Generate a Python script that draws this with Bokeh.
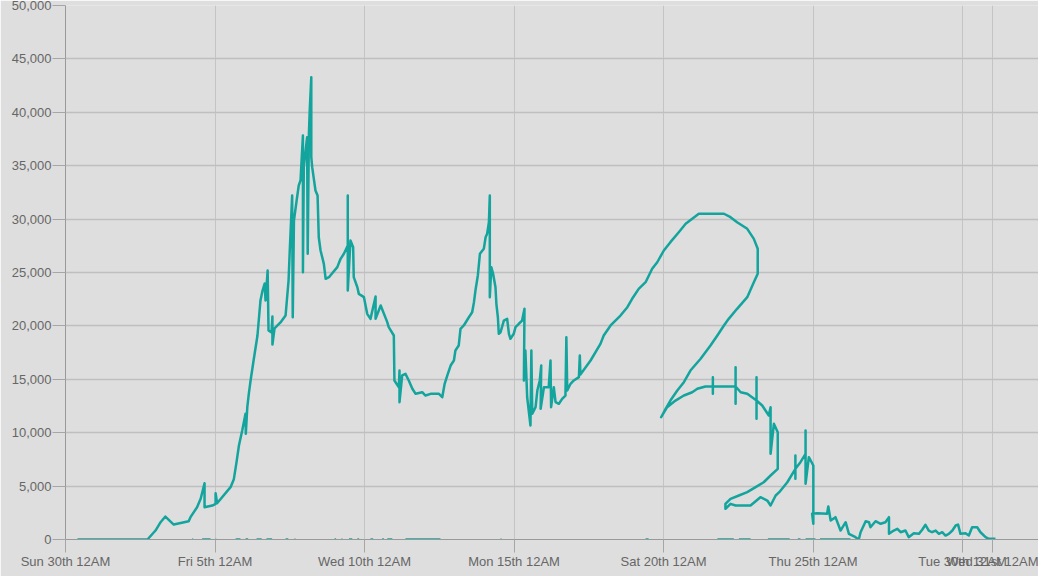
from bokeh.plotting import figure
from bokeh.models import Range1d, FixedTicker, NumeralTickFormatter
from bokeh.embed import file_html
from bokeh.resources import INLINE

# ---- data: days since Sun 30th 12AM, and values (points in recorded order) ----
day_offset = [
    0.40, 2.74, 3.01, 3.18, 3.34, 3.62, 4.12, 4.18, 4.40, 4.52, 4.65, 4.65, 4.91, 5.02, 5.02, 5.07,
    5.52, 5.63, 5.72, 5.80, 5.91, 6.02, 6.03, 6.08, 6.13, 6.19, 6.29, 6.42, 6.52, 6.59, 6.66, 6.69,
    6.76, 6.79, 6.89, 6.92, 6.92, 6.99, 7.19, 7.36, 7.46, 7.50, 7.58, 7.60, 7.64, 7.73, 7.80, 7.86,
    7.94, 7.94, 7.97, 8.08, 8.10, 8.14, 8.17, 8.22, 8.22, 8.25, 8.36, 8.43, 8.47, 8.53, 8.64, 8.70,
    8.81, 9.09, 9.20, 9.31, 9.44, 9.44, 9.44, 9.53, 9.62, 9.64, 9.76, 9.81, 9.98, 10.09, 10.20, 10.37,
    10.37, 10.54, 10.76, 10.81, 10.98, 11.00, 11.15, 11.17, 11.17, 11.26, 11.37, 11.48, 11.60, 11.71,
    11.93, 12.04, 12.21, 12.49, 12.60, 12.68, 12.77, 12.88, 12.99, 13.04, 13.15, 13.21, 13.32, 13.49,
    13.60, 13.66, 13.71, 13.79, 13.86, 13.99, 14.05, 14.10, 14.16, 14.19, 14.19, 14.24, 14.30, 14.38,
    14.41, 14.46, 14.49, 14.55, 14.66, 14.77, 14.83, 14.88, 14.99, 15.05, 15.16, 15.27, 15.35, 15.33,
    15.38, 15.44, 15.55, 15.58, 15.61, 15.72, 15.78, 15.86, 15.91, 15.89, 16.00, 16.16, 16.22, 16.24,
    16.33, 16.39, 16.50, 16.61, 16.72, 16.75, 16.78, 16.89, 17.00, 17.17, 17.20, 17.22, 17.56, 17.89,
    18.00, 18.23, 18.56, 18.79, 18.95, 19.17, 19.40, 19.62, 19.79, 20.01, 20.23, 20.51, 20.74, 20.96,
    21.18, 22.02, 22.24, 22.46, 22.80, 23.02, 23.15, 23.15, 23.02, 22.80, 22.46, 22.18, 22.02, 21.80,
    21.57, 21.24, 20.90, 20.68, 20.46, 20.23, 20.07, 19.92, 20.12, 20.40, 20.68, 20.96, 21.13, 21.40,
    21.65, 21.65, 21.65, 21.65, 22.41, 22.41, 22.41, 22.41, 22.58, 22.80, 23.11, 23.11, 23.11, 23.11,
    23.30, 23.52, 23.58, 23.58, 23.69, 23.82, 23.82, 23.58, 23.35, 23.08, 22.80, 22.52, 22.24, 22.07,
    22.07, 22.24, 22.41, 22.91, 23.24, 23.47, 23.58, 23.75, 23.87, 24.14, 24.41, 24.41, 24.41, 24.41,
    24.58, 24.75, 24.75, 24.75, 24.86, 25.01, 25.01, 24.97, 25.14, 25.47, 25.51, 25.59, 25.75, 25.92,
    26.09, 26.20, 26.42, 26.53, 26.59, 26.76, 26.87, 26.92, 27.09, 27.26, 27.42, 27.54, 27.54, 27.70,
    27.82, 27.93, 28.09, 28.20, 28.37, 28.54, 28.65, 28.76, 28.87, 28.98, 29.10, 29.21, 29.32, 29.43,
    29.54, 29.66, 29.77, 29.85, 29.93, 30.10, 30.21, 30.32, 30.49, 30.60, 30.77, 30.88, 31.10,
]
value = [
    0, 0, 840, 1620, 2150, 1400, 1710, 2090, 3020, 3810, 5270, 3020, 3180, 3340, 4330, 3400,
    4900, 5650, 7240, 8800, 10200, 11770, 9900, 12390, 13640, 14890, 16760, 19100, 22380, 23310, 23970, 22380,
    25190, 19570, 19380, 20880, 18260, 19760, 20320, 20970, 24250, 27060, 32210, 20810, 29870, 31740, 33150, 33620,
    37830, 25030, 34860, 37670, 26750, 37990, 40330, 43290, 35800, 34860, 32680, 32210, 28300, 27060, 25810, 24410,
    24560, 25500, 26280, 26750, 27530, 32210, 23310, 28000, 27370, 24560, 23620, 23000, 22690, 21130, 20660, 22750,
    20660, 21910, 20350, 19880, 19100, 14890, 14260, 15820, 12860, 15360, 15510, 14890, 14110, 13640,
    13790, 13480, 13640, 13640, 13320, 14580, 15360, 16290, 16760, 17700, 18160, 19730, 20040, 20810,
    21280, 22220, 23310, 24720, 26750, 27220, 28300, 28620, 29710, 32210, 22690, 25500, 24880, 23620,
    22070, 20810, 19260, 19410, 20500, 20660, 19260, 18790, 19260, 19880, 20200, 20500, 21600, 14890,
    17700, 13320, 10670, 17700, 11770, 12390, 13950, 14890, 16290, 12240, 14260, 14260, 16760, 12390,
    14260, 12860, 12710, 13170, 13480, 18940, 13950, 14580, 14890, 15200, 17230, 15450, 16760, 18320,
    19100, 20040, 20970, 21750, 22540, 23470, 24090, 25350, 25960, 27060, 27840, 28770, 29560, 30030,
    30500, 30500, 30180, 29710, 29090, 28150, 27220, 24880, 24090, 22690, 21600, 20660, 20040, 19100,
    18160, 16920, 15820, 14730, 13950, 13010, 12240, 11450, 12390, 13010, 13480, 13790, 14110, 14330,
    14330, 15200, 13640, 14330, 14330, 16130, 12710, 14330, 13790, 13640, 13010, 15200, 11300, 13010,
    12550, 11610, 12390, 8020, 10830, 10050, 6620, 5990, 5360, 4900, 4430, 4120, 3810, 3340,
    2870, 3340, 3180, 3180, 3960, 3650, 3180, 4120, 4430, 5360, 6620, 7860, 5680, 6620,
    7240, 8020, 10210, 5220, 7710, 6930, 1470, 2410, 2460, 2410, 3090, 1780, 2090, 840,
    1620, 530, 220, 0, 680, 1710, 1620, 1150, 1710, 1470, 1620, 2090, 530, 840,
    1000, 680, 840, 220, 590, 530, 910, 1380, 840, 680, 840, 530, 680, 370,
    530, 840, 1310, 1400, 530, 590, 370, 1150, 1150, 680, 220, 60, 60,
]

# short runs recorded at zero (start / end, in days)
zero_start = [4.24, 4.57, 5.02, 5.69, 6.02, 6.39, 6.72, 7.36, 7.66, 9.00, 9.23, 9.48, 9.76,
              10.20, 10.59, 10.76, 11.37, 14.55, 19.40, 21.80, 22.52, 23.49, 24.49, 24.75, 25.23]
zero_end = [4.27, 4.85, 5.04, 5.85, 6.11, 6.56, 6.91, 7.45, 7.69, 9.05, 9.26, 9.59, 9.82,
            10.29, 10.65, 10.93, 12.54, 14.58, 19.50, 22.35, 22.91, 24.22, 24.58, 25.08, 26.25]

tick_days = [0, 5, 10, 15, 20, 25, 30, 31]
tick_labels = ["Sun 30th 12AM", "Fri 5th 12AM", "Wed 10th 12AM", "Mon 15th 12AM",
               "Sat 20th 12AM", "Thu 25th 12AM", "Tue 30th 12AM", "Wed 31st 12AM"]
y_ticks = [0, 5000, 10000, 15000, 20000, 25000, 30000, 35000, 40000, 45000, 50000]

BG = "#dedede"
TEAL = "#12a49d"
FONT = "Liberation Sans"

p = figure(width=1038, height=576, output_backend="svg", toolbar_location=None,
           x_range=Range1d(0, 32.54), y_range=Range1d(0, 50000),
           min_border_left=65, min_border_right=0, min_border_top=5, min_border_bottom=37)
p.background_fill_color = BG
p.border_fill_color = BG
p.outline_line_color = None

# grids
p.ygrid.grid_line_color = "#bfbfbf"
p.ygrid.grid_line_width = 1.3
p.xgrid.grid_line_color = "#c4c4c4"
p.xgrid.grid_line_width = 1

# zero-level runs
p.multi_line(xs=[[s, e] for s, e in zip(zero_start, zero_end)],
             ys=[[0, 0] for _ in zero_start],
             line_color=TEAL, line_width=2.5)

# main series
p.line(day_offset, value, line_color=TEAL, line_width=2.5, line_join="round")

# x axis
xa = p.xaxis[0]
xa.ticker = FixedTicker(ticks=tick_days)
xa.major_label_overrides = {d: t for d, t in zip(tick_days, tick_labels)}
xa.axis_line_color = "#999999"
xa.major_tick_line_color = "#a6a6a6"
xa.major_tick_out = 13
xa.major_tick_in = 0
xa.minor_tick_line_color = None
xa.major_label_standoff = 1
xa.major_label_text_font = FONT
xa.major_label_text_font_size = "13px"
xa.major_label_text_color = "#666666"

# y axis
ya = p.yaxis[0]
ya.ticker = FixedTicker(ticks=y_ticks)
ya.formatter = NumeralTickFormatter(format="0,0")
ya.axis_line_color = "#999999"
ya.major_tick_line_color = "#a6a6a6"
ya.major_tick_out = 13
ya.major_tick_in = 0
ya.minor_tick_line_color = None
ya.major_label_standoff = 1
ya.major_label_text_font = FONT
ya.major_label_text_font_size = "13px"
ya.major_label_text_color = "#666666"

open("out.html", "w").write(file_html(p, INLINE))
